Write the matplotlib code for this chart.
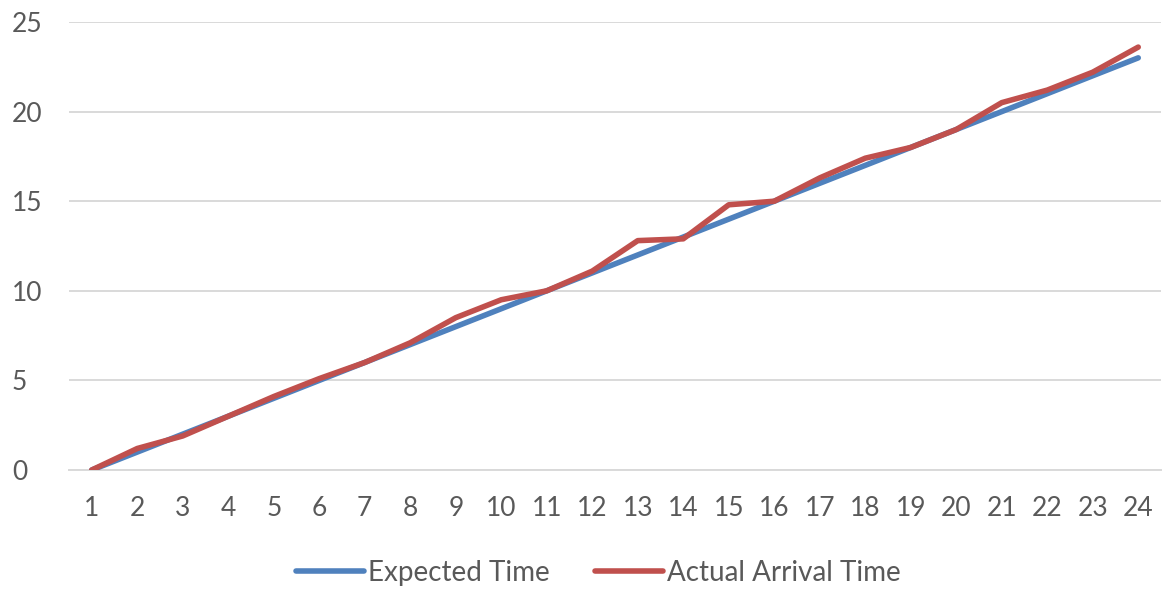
import matplotlib
matplotlib.use("Agg")
import matplotlib.pyplot as plt

plt.rcParams['font.family'] = ['Lato', 'DejaVu Sans']

stops = list(range(1, 25))
expected_time = [0, 1, 2, 3, 4, 5, 6, 7, 8, 9, 10, 11, 12, 13, 14, 15, 16, 17,
                 18, 19, 20, 21, 22, 23]
actual_arrival_time = [0, 1.2, 1.9, 3.0, 4.1, 5.1, 6.0, 7.1, 8.5, 9.5, 10.0,
                       11.1, 12.8, 12.9, 14.8, 15.0, 16.3, 17.4, 18.0, 19.0,
                       20.5, 21.2, 22.2, 23.6]
y_ticks = [0, 5, 10, 15, 20, 25]

fig = plt.figure(figsize=(11.64, 5.90), dpi=100)
ax = fig.add_axes([69 / 1164, 1 - 470 / 590, (1161 - 69) / 1164, 448 / 590])

ax.plot(stops, expected_time, color='#4F81BD', lw=4.0, solid_capstyle='round',
        label='Expected Time', zorder=3)
ax.plot(stops, actual_arrival_time, color='#C0504D', lw=4.0,
        solid_capstyle='round', solid_joinstyle='round',
        label='Actual Arrival Time', zorder=4)

ax.set_xlim(0.5, 24.5)
ax.set_ylim(0, 25)
ax.set_xticks(stops)
ax.set_yticks(y_ticks)
ax.grid(axis='y', color='#D9D9D9', lw=1.4, zorder=0)
for s in ['top', 'right', 'left']:
    ax.spines[s].set_visible(False)
ax.spines['bottom'].set_color('#D9D9D9')
ax.spines['bottom'].set_linewidth(1.4)
ax.tick_params(axis='both', length=0, labelsize=19, colors='#595959')
ax.tick_params(axis='x', pad=19)
ax.tick_params(axis='y', pad=41)
for lbl in ax.get_yticklabels():
    lbl.set_horizontalalignment('left')

leg = fig.legend(loc='center', bbox_to_anchor=(0.514, 1 - 573 / 590), ncol=2,
                 frameon=False, fontsize=20, handlelength=2.45,
                 handletextpad=0.15, columnspacing=1.6, labelcolor='#595959')

fig.savefig('out.png', dpi=100)
